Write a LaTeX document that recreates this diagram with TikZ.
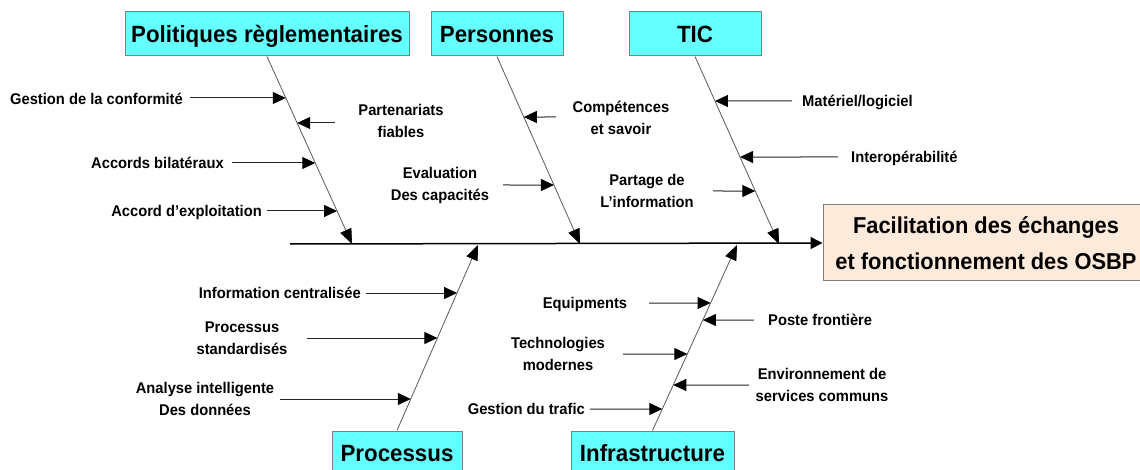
\documentclass[tikz,border=0pt]{standalone}
\usepackage{fontspec}
\setmainfont{Liberation Sans}[FakeStretch=0.95]
\usetikzlibrary{arrows.meta}
\definecolor{catfill}{HTML}{66FFFF}
\definecolor{effectfill}{HTML}{FDEADA}
\definecolor{boxline}{HTML}{7F7F7F}
\definecolor{bonegray}{HTML}{5A5A5A}
\begin{document}
\begin{tikzpicture}[x=1pt,y=-1pt,
  catbox/.style={draw=boxline, line width=1pt, fill=catfill, inner sep=0pt,
    minimum height=44pt, text height=16.8pt, text depth=0pt,
    font=\fontsize{23.5}{27}\selectfont\bfseries},
  effbox/.style={draw=boxline, line width=1pt, fill=effectfill, inner sep=0pt,
    minimum width=326pt, minimum height=76pt, align=center,
    font=\fontsize{23}{36}\selectfont\bfseries},
  lbl/.style={inner sep=0pt, text height=11pt, text depth=0pt,
    font=\fontsize{15.5}{22}\selectfont\bfseries},
  lbltwo/.style={inner sep=0pt, align=center,
    font=\fontsize{15.5}{22}\selectfont\bfseries},
  bone/.style={draw=bonegray, line width=0.8pt,
    -{Triangle[length=15pt,width=12pt,color=black]}},
  spine/.style={draw=black, line width=1.5pt,
    -{Triangle[length=12pt,width=12pt]}},
  cause/.style={draw=black!85, line width=1pt,
    -{Triangle[length=13pt,width=12pt,color=black]}}
]
\path[use as bounding box] (0,0) rectangle (1140,470);
\clip (0,0) rectangle (1140,470);
\fill[white] (0,0) rectangle (1140,470);

% category boxes
\node[catbox, minimum width=284pt] (pol) at (267,34) {Politiques règlementaires};
\node[catbox, minimum width=132pt] (per) at (497,34) {Personnes};
\node[catbox, minimum width=132pt] (tic) at (695,34) {TIC};
\node[catbox, minimum width=130pt] (pro) at (397,453) {Processus};
\node[catbox, minimum width=163pt] (inf) at (652.5,453) {Infrastructure};

% effect box
\node[effbox] (eff) at (986,243) {Facilitation des échanges\\et fonctionnement des OSBP};

% spine
\coordinate (sp0) at (290,244);
\draw[spine] (sp0) -- (eff.west);

% bone ends on the spine
\coordinate (polT) at (352,244);
\coordinate (perT) at (580,244);
\coordinate (ticT) at (779,244);
\coordinate (proT) at (478,245);
\coordinate (infT) at (737,245);
\draw[bone] (pol.south) -- (polT);
\draw[bone] (per.south) -- (perT);
\draw[bone] (tic.south) -- (ticT);
\draw[bone] (pro.north) -- (proT);
\draw[bone] (inf.north) -- (infT);

% sub-causes: Politiques règlementaires
\node[lbl, anchor=east] (gc) at (183,99) {Gestion de la conformité};
\node[lbltwo] (pf) at (401,121) {Partenariats\\fiables};
\node[lbl, anchor=east] (ab) at (224,163) {Accords bilatéraux};
\node[lbl, anchor=east] (ae) at (262,211) {Accord d’exploitation};
\coordinate (gcS) at (190,98);
\coordinate (pfS) at (335,123);
\coordinate (abS) at (232,163);
\coordinate (aeS) at (267,211);
\draw[cause] (gcS) -- (intersection of pol.south--polT and 0,98--10,98);
\draw[cause] (pfS) -- (intersection of pol.south--polT and 0,123--10,123);
\draw[cause] (abS) -- (intersection of pol.south--polT and 0,163--10,163);
\draw[cause] (aeS) -- (intersection of pol.south--polT and 0,211--10,211);

% sub-causes: Personnes
\node[lbltwo] (cs) at (621,118) {Compétences\\et savoir};
\node[lbltwo] (ev) at (440,185) {Evaluation\\Des capacités};
\coordinate (csS) at (556,117);
\coordinate (evS) at (503,185);
\draw[cause] (csS) -- (intersection of per.south--perT and 0,117--10,117);
\draw[cause] (evS) -- (intersection of per.south--perT and 0,185--10,185);

% sub-causes: TIC
\node[lbl, anchor=west] (ml) at (802,101) {Matériel/logiciel};
\node[lbl, anchor=west] (io) at (851,157) {Interopérabilité};
\node[lbltwo] (pi) at (647,191) {Partage de\\L’information};
\coordinate (mlS) at (792,101);
\coordinate (ioS) at (838,157);
\coordinate (piS) at (713,191);
\draw[cause] (mlS) -- (intersection of tic.south--ticT and 0,101--10,101);
\draw[cause] (ioS) -- (intersection of tic.south--ticT and 0,157--10,157);
\draw[cause] (piS) -- (intersection of tic.south--ticT and 0,191--10,191);

% sub-causes: Processus
\node[lbl, anchor=east] (ic) at (361,293) {Information centralisée};
\node[lbltwo] (ps) at (242,338) {Processus\\standardisés};
\node[lbltwo] (ai) at (205,399) {Analyse intelligente\\Des données};
\coordinate (icS) at (366,293);
\coordinate (psS) at (307,338);
\coordinate (aiS) at (280,399);
\draw[cause] (icS) -- (intersection of pro.north--proT and 0,293--10,293);
\draw[cause] (psS) -- (intersection of pro.north--proT and 0,338--10,338);
\draw[cause] (aiS) -- (intersection of pro.north--proT and 0,399--10,399);

% sub-causes: Infrastructure
\node[lbl] (eq) at (585,303) {Equipments};
\node[lbl, anchor=west] (pfr) at (768,320) {Poste frontière};
\node[lbltwo] (tm) at (558,354) {Technologies\\modernes};
\node[lbltwo] (env) at (822,385) {Environnement de\\services communs};
\node[lbl, anchor=east] (gt) at (585,409) {Gestion du trafic};
\coordinate (eqS) at (649,303);
\coordinate (pfrS) at (754,320);
\coordinate (tmS) at (623,354);
\coordinate (envS) at (749,385);
\coordinate (gtS) at (590,409);
\draw[cause] (eqS) -- (intersection of inf.north--infT and 0,303--10,303);
\draw[cause] (pfrS) -- (intersection of inf.north--infT and 0,320--10,320);
\draw[cause] (tmS) -- (intersection of inf.north--infT and 0,354--10,354);
\draw[cause] (envS) -- (intersection of inf.north--infT and 0,385--10,385);
\draw[cause] (gtS) -- (intersection of inf.north--infT and 0,409--10,409);
\end{tikzpicture}
\end{document}
